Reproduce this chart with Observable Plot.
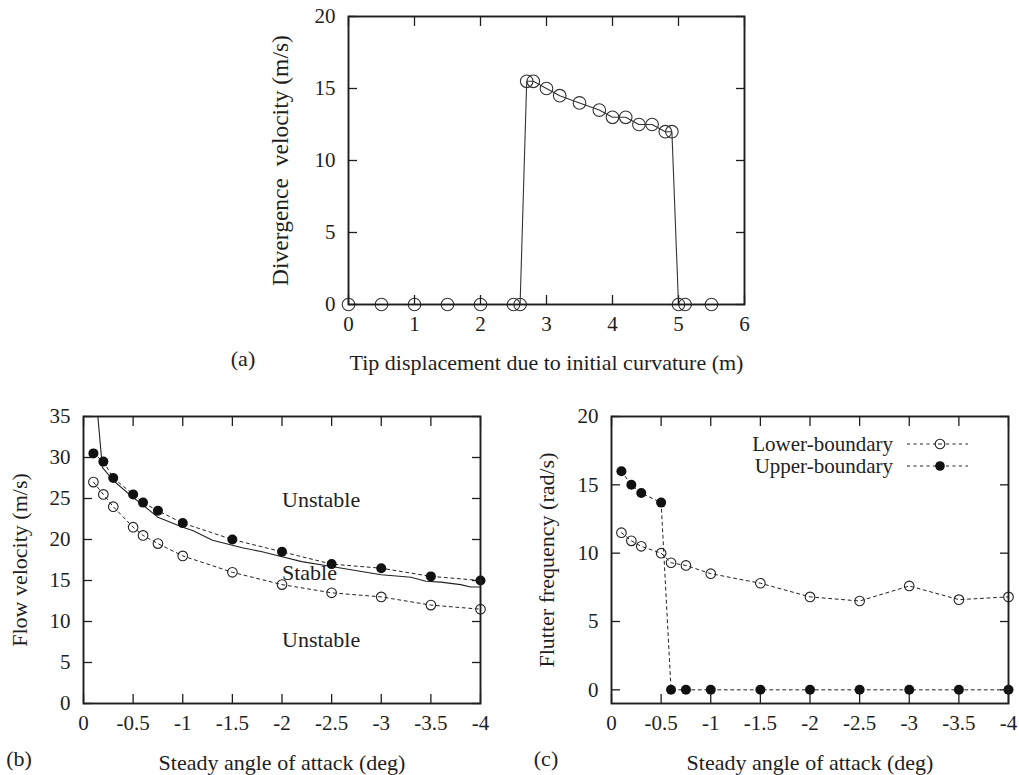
<!DOCTYPE html>
<html>
<head>
<meta charset="utf-8">
<script src="https://cdn.jsdelivr.net/npm/d3@7"></script>
<script src="https://cdn.jsdelivr.net/npm/@observablehq/plot@0.6"></script>
<style>
  body { margin: 0; background: #fff; }
  #wrap { position: relative; width: 1019px; height: 775px; background: #fff; font-family: "Liberation Serif", "DejaVu Serif", serif; color: #222; }
  .panel { position: absolute; }
  .tag { position: absolute; font-size: 22px; line-height: 1; transform: translate(-50%, -50%); white-space: nowrap; }
  .leg { position: absolute; font-size: 21px; line-height: 0.9; white-space: nowrap; transform: translate(-100%, -50%); }
  .legsym { position: absolute; }
  svg g[aria-label="x-axis label"] { font-size: 22px; }
  svg g[aria-label="y-axis label"] { font-size: 22px; }
  #pa svg g[aria-label="y-axis label"] { font-size: 23.5px; }
</style>
</head>
<body>
<div id="wrap"></div>
<script>
// ---------- Panel (a) data ----------
const tipDisp = [0, 0.5, 1, 1.5, 2, 2.5, 2.6, 2.7, 2.8, 3.0, 3.2, 3.5, 3.8, 4.0, 4.2, 4.4, 4.6, 4.8, 4.9, 5.0, 5.1, 5.5];
const divVel  = [0, 0, 0, 0, 0, 0, 0, 15.5, 15.5, 15, 14.5, 14, 13.5, 13, 13, 12.5, 12.5, 12, 12, 0, 0, 0];
const ticksTip = [0, 1, 2, 3, 4, 5, 6];
const ticksDiv = [0, 5, 10, 15, 20];

// ---------- Panel (b) data ----------
const aoa        = [-0.1, -0.2, -0.3, -0.5, -0.6, -0.75, -1, -1.5, -2, -2.5, -3, -3.5, -4];
const flowUpper  = [30.5, 29.5, 27.5, 25.5, 24.5, 23.5, 22, 20, 18.5, 17, 16.5, 15.5, 15];
const flowLower  = [27, 25.5, 24, 21.5, 20.5, 19.5, 18, 16, 14.5, 13.5, 13, 12, 11.5];
const theoAoa    = [-0.13, -0.19, -0.3, -0.5, -0.6, -0.75, -1.0, -1.1, -1.3, -1.5, -1.6, -1.8, -2.0, -2.2, -2.5, -2.8, -3.0, -3.3, -3.45, -3.6, -3.8, -3.9, -4.0];
const theoVel    = [37, 28.8, 27.2, 25.1, 24.2, 22.7, 21.5, 21.1, 19.9, 19.3, 19.0, 18.5, 17.9, 17.3, 16.7, 16.1, 15.7, 15.4, 14.9, 14.8, 14.5, 14.2, 14.2];
const regionText = ["Unstable", "Stable", "Unstable"];
const regionX    = [-2, -2, -2];
const regionY    = [24.8, 15.9, 7.8];
const ticksAoa   = [0, -0.5, -1, -1.5, -2, -2.5, -3, -3.5, -4];
const ticksFlow  = [0, 5, 10, 15, 20, 25, 30, 35];

// ---------- Panel (c) data ----------
const freqLower = [11.5, 10.9, 10.5, 10, 9.3, 9.1, 8.5, 7.8, 6.8, 6.5, 7.6, 6.6, 6.8];
const freqUpper = [16, 15, 14.4, 13.7, 0, 0, 0, 0, 0, 0, 0, 0, 0];
const ticksFreq = [0, 5, 10, 15, 20];
const legendLabels = ["Lower-boundary", "Upper-boundary"];

// ---------- helpers ----------
const INK = "#1e1e1e";
const fmt = d => String(d);
const baseStyle = { fontFamily: "Liberation Serif", fontSize: "21px", color: INK, background: "white", overflow: "visible" };
const DASH = "3,3.5";

function axes(xt, yt, xlabel, ylabel, xLabelOffset, yLabelOffset) {
  return [
    Plot.axisX(xt, { anchor: "bottom", tickSize: 0, tickPadding: 12, tickFormat: fmt, label: xlabel, labelAnchor: "center", labelOffset: xLabelOffset, labelArrow: "none" }),
    Plot.axisX(xt, { anchor: "bottom", tickSize: -9, fill: "none", label: null, strokeWidth: 1.3 }),
    Plot.axisX(xt, { anchor: "top", tickSize: -9, fill: "none", label: null, strokeWidth: 1.3 }),
    Plot.axisY(yt, { anchor: "left", tickSize: 0, tickPadding: 13, tickFormat: fmt, label: ylabel, labelAnchor: "center", labelOffset: yLabelOffset, labelArrow: "none" }),
    Plot.axisY(yt, { anchor: "left", tickSize: -9, fill: "none", label: null, strokeWidth: 1.3 }),
    Plot.axisY(yt, { anchor: "right", tickSize: -9, fill: "none", label: null, strokeWidth: 1.3 }),
    Plot.frame({ stroke: INK, strokeWidth: 1.9 })
  ];
}

const wrap = document.getElementById("wrap");
function place(el, left, top, id) {
  const d = document.createElement("div");
  d.className = "panel";
  d.id = id;
  d.style.left = left + "px";
  d.style.top = top + "px";
  d.appendChild(el);
  wrap.appendChild(d);
}
function tag(text, cx, cy, cls = "tag") {
  const d = document.createElement("div");
  d.className = cls;
  d.textContent = text;
  d.style.left = cx + "px";
  d.style.top = cy + "px";
  wrap.appendChild(d);
}

// ---------- Panel (a) ----------
const dataA = tipDisp.map((x, i) => ({ x, y: divVel[i] }));
const plotA = Plot.plot({
  width: 570, height: 380,
  marginLeft: 148, marginRight: 26, marginTop: 16, marginBottom: 76,
  style: baseStyle,
  x: { domain: [0, 6] },
  y: { domain: [0, 20] },
  marks: [
    Plot.line(dataA, { x: "x", y: "y", stroke: "#333", strokeWidth: 1.1 }),
    Plot.dot(dataA, { x: "x", y: "y", r: 6.3, stroke: "#333", strokeWidth: 1.1, fill: "none" }),
    ...axes(ticksTip, ticksDiv, "Tip displacement due to initial curvature (m)", "Divergence\u00a0 velocity (m/s)", 65, 77)
  ]
});
place(plotA, 200, 0, "pa");
tag("(a)", 243, 359);

// ---------- Panel (b) ----------
const dataBU = aoa.map((x, i) => ({ x, y: flowUpper[i] }));
const dataBL = aoa.map((x, i) => ({ x, y: flowLower[i] }));
const dataBT = theoAoa.map((x, i) => ({ x, y: theoVel[i] }));
const dataBR = regionText.map((t, i) => ({ t, x: regionX[i], y: regionY[i] }));
const plotB = Plot.plot({
  width: 500, height: 385,
  marginLeft: 83, marginRight: 20, marginTop: 26, marginBottom: 72,
  style: baseStyle,
  x: { domain: [0, -4] },
  y: { domain: [0, 35] },
  marks: [
    Plot.line(dataBT, { x: "x", y: "y", stroke: "#222", strokeWidth: 1.1, clip: true }),
    Plot.line(dataBU, { x: "x", y: "y", stroke: "#222", strokeWidth: 1, strokeDasharray: DASH }),
    Plot.line(dataBL, { x: "x", y: "y", stroke: "#222", strokeWidth: 1, strokeDasharray: DASH }),
    Plot.dot(dataBL, { x: "x", y: "y", r: 4.8, stroke: "#222", strokeWidth: 1.1, fill: "none" }),
    Plot.dot(dataBU, { x: "x", y: "y", r: 5, fill: "#111", stroke: "none" }),
    Plot.text(dataBR, { x: "x", y: "y", text: "t", textAnchor: "start", fontSize: 22, fill: INK }),
    ...axes(ticksAoa, ticksFlow, "Steady angle of attack (deg)", "Flow velocity (m/s)", 66, 72)
  ]
});
place(plotB, 0, 390, "pb");
tag("(b)", 19, 759);

// ---------- Panel (c) ----------
const dataCL = aoa.map((x, i) => ({ x, y: freqLower[i] }));
const dataCU = aoa.map((x, i) => ({ x, y: freqUpper[i] }));
const plotC = Plot.plot({
  width: 514, height: 385,
  marginLeft: 106, marginRight: 11, marginTop: 26, marginBottom: 72,
  style: baseStyle,
  x: { domain: [0, -4] },
  y: { domain: [-1, 20] },
  marks: [
    Plot.line(dataCL, { x: "x", y: "y", stroke: "#222", strokeWidth: 1, strokeDasharray: DASH }),
    Plot.line(dataCU, { x: "x", y: "y", stroke: "#222", strokeWidth: 1, strokeDasharray: DASH }),
    Plot.dot(dataCL, { x: "x", y: "y", r: 4.8, stroke: "#222", strokeWidth: 1.1, fill: "none" }),
    Plot.dot(dataCU, { x: "x", y: "y", r: 5, fill: "#111", stroke: "none" }),
    ...axes(ticksAoa, ticksFreq, "Steady angle of attack (deg)", "Flutter frequency (rad/s)", 66, 73)
  ]
});
place(plotC, 505, 390, "pc");
tag("(c)", 546, 759);

// legend for (c)
const legY = [444, 466];
legendLabels.forEach((lab, i) => {
  tag(lab, 893, legY[i], "leg");
  const ns = "http://www.w3.org/2000/svg";
  const s = document.createElementNS(ns, "svg");
  s.setAttribute("width", 64); s.setAttribute("height", 14);
  s.setAttribute("class", "legsym");
  s.style.left = "906px"; s.style.top = (legY[i] - 7) + "px";
  s.style.position = "absolute";
  const ln = document.createElementNS(ns, "line");
  ln.setAttribute("x1", 1); ln.setAttribute("x2", 62); ln.setAttribute("y1", 7); ln.setAttribute("y2", 7);
  ln.setAttribute("stroke", "#222"); ln.setAttribute("stroke-dasharray", DASH);
  s.appendChild(ln);
  const c = document.createElementNS(ns, "circle");
  c.setAttribute("cx", 34); c.setAttribute("cy", 7); c.setAttribute("r", 4.8);
  if (i === 0) { c.setAttribute("fill", "white"); c.setAttribute("stroke", "#222"); c.setAttribute("stroke-width", 1.1); }
  else { c.setAttribute("fill", "#111"); }
  s.appendChild(c);
  if (i === 0) {
    const m = document.createElementNS(ns, "line");
    m.setAttribute("x1", 32); m.setAttribute("x2", 36); m.setAttribute("y1", 7); m.setAttribute("y2", 7);
    m.setAttribute("stroke", "#222");
    s.appendChild(m);
  }
  wrap.appendChild(s);
});
</script>
</body>
</html>
